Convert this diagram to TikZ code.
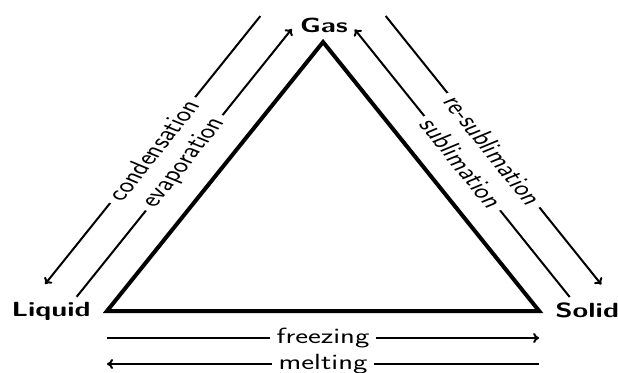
\documentclass[tikz,border=0pt]{standalone}
\usepackage{fontspec}
\usetikzlibrary{arrows.meta}
\begin{document}
\begin{tikzpicture}[x=1pt,y=-1pt,
  proc/.style={font=\sffamily\fontsize{22}{26}\selectfont, fill=white, inner xsep=5pt, inner ysep=1pt},
  state/.style={font=\sffamily\bfseries\fontsize{20.5}{24}\selectfont, inner sep=0pt},
  tri/.style={line width=4pt, line join=miter},
  flow/.style={line width=2pt, -{To[length=6pt,width=10pt]}}]
\useasboundingbox (0,0) rectangle (618,372);
\begin{scope}[xscale=1.391, transform shape]
  % triangle corners
  \coordinate (L) at (76.9,311);
  \coordinate (S) at (387.5,311);
  \coordinate (G) at (232.2,42);
  \draw[tri] (L) -- (G) -- (S) -- cycle;
  % left side
  \coordinate (c1) at (187.1,16.1);
  \coordinate (c2) at (32.4,284.1);
  \coordinate (e1) at (55.1,296.8);
  \coordinate (e2) at (209.75,28.9);
  % right side
  \coordinate (r1) at (277.2,16);
  \coordinate (r2) at (432.2,284.5);
  \coordinate (s1) at (409.45,297);
  \coordinate (s2) at (254.95,29.4);
  % bottom
  \coordinate (f1) at (76.9,338);
  \coordinate (f2) at (387.5,338);
  \coordinate (m1) at (387.5,364);
  \coordinate (m2) at (76.9,364);
  \draw[flow] (c1) -- node[proc, rotate=60] (tc) {condensation} (c2);
  \draw[flow] (e1) -- node[proc, rotate=60] (te) {evaporation} (e2);
  \draw[flow] (r1) -- node[proc, rotate=-60] (tr) {re-sublimation} (r2);
  \draw[flow] (s1) -- node[proc, rotate=-60] (ts) {sublimation} (s2);
  \draw[flow] (f1) -- node[proc] (tf) {freezing} (f2);
  \draw[flow] (m1) -- node[proc] (tm) {melting} (m2);
  % states
  \node[state, anchor=base] (gas) at (232.9,32) {Gas};
  \node[state, anchor=base east] (liq) at (65.4,316) {Liquid};
  \node[state, anchor=base west] (sol) at (399,317) {Solid};
\end{scope}
\end{tikzpicture}
\end{document}
